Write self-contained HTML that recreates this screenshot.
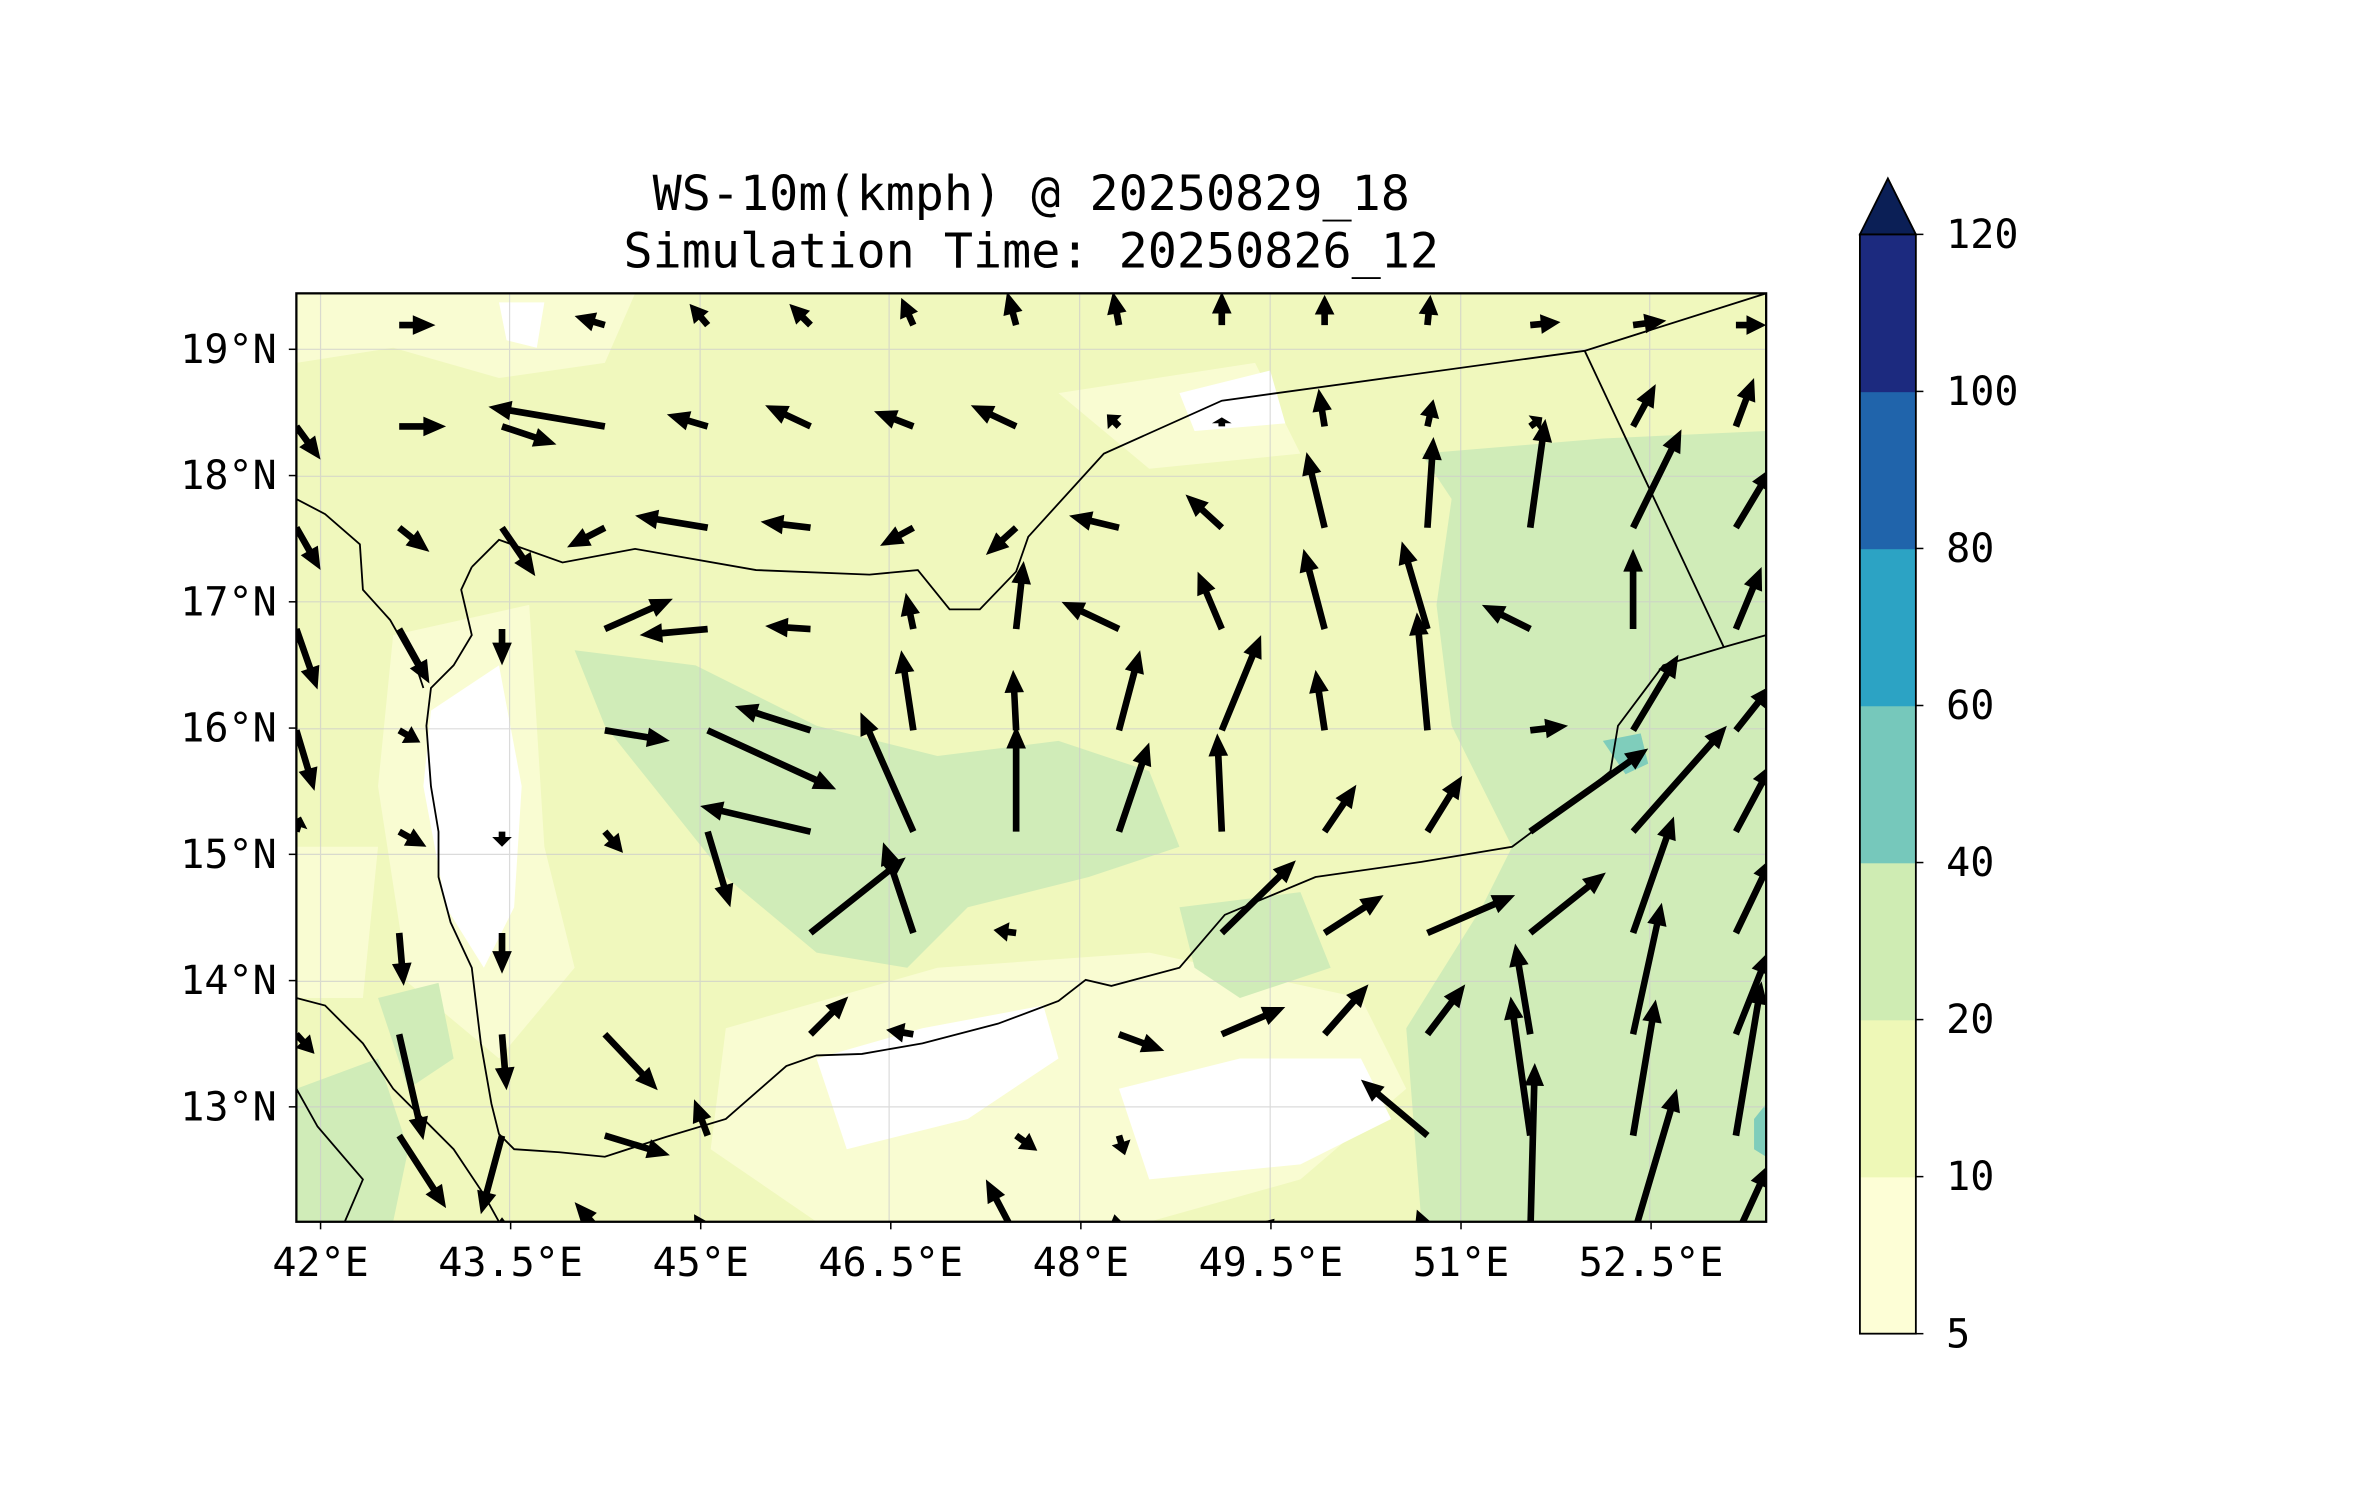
<!DOCTYPE html>
<html><head><meta charset="utf-8"><style>
html,body{margin:0;padding:0;background:#fff;}
svg{display:block;}
text{font-family:"DejaVu Sans Mono","Liberation Mono",monospace;fill:#000;}
</style></head><body>
<svg id="fig" width="2371" height="1500" viewBox="0 0 1568 992" preserveAspectRatio="none" xmlns="http://www.w3.org/2000/svg">
<defs><clipPath id="mapclip"><rect x="196" y="194" width="972" height="614"/></clipPath></defs>
<text x="682" y="139" font-size="32" text-anchor="middle">WS-10m(kmph) @ 20250829_18</text>
<text x="682" y="177" font-size="32" text-anchor="middle">Simulation Time: 20250826_12</text>
<g clip-path="url(#mapclip)">
<rect x="196" y="194" width="972" height="614" fill="#f0f8bd"/>
<g fill="#f9fcd2">
<path d="M196,194 L420,194 L400,240 L330,250 L260,230 L196,240Z"/>
<path d="M260,420 L350,400 L360,560 L380,640 L330,700 L270,650 L250,520Z"/>
<path d="M480,680 L620,640 L760,630 L900,660 L930,720 L860,780 L760,808 L540,808 L470,760Z"/>
<path d="M700,260 L830,240 L860,300 L760,310Z"/>
<path d="M196,560 L250,560 L240,660 L196,660Z"/>
<path d="M1110,400 L1168,380 L1168,480 L1120,470Z"/>
</g>
<g fill="#ffffff">
<path d="M285,470 L330,440 L345,520 L340,600 L320,640 L295,600 L280,520Z"/>
<path d="M540,700 L610,680 L690,665 L700,700 L640,740 L560,760Z"/>
<path d="M740,720 L820,700 L900,700 L920,740 L860,770 L760,780Z"/>
<path d="M780,260 L840,245 L850,280 L790,285Z"/>
<path d="M1060,440 L1110,425 L1120,470 L1070,475Z"/>
<path d="M330,200 L360,200 L355,230 L335,225Z"/>
</g>
<g fill="#d0ecb8">
<path d="M940,300 L1060,290 L1168,285 L1168,808 L940,808 L930,680 L980,600 L1000,560 L960,480 L950,400 L960,330Z"/>
<path d="M380,430 L460,440 L540,480 L620,500 L700,490 L760,510 L780,560 L720,580 L640,600 L600,640 L540,630 L480,580 L440,530 L400,480Z"/>
<path d="M780,600 L860,590 L880,640 L820,660 L790,640Z"/>
<path d="M196,720 L250,700 L270,760 L260,808 L196,808Z"/>
<path d="M250,660 L290,650 L300,700 L270,720Z"/>
<path d="M1060,490 L1085,485 L1090,505 L1075,512Z" fill="#7fcdbb"/>
<path d="M1160,740 L1168,730 L1168,765 L1160,760Z" fill="#7fcdbb"/>
</g>
<g stroke="#cccccc" stroke-width="0.8" opacity="0.7">
<line x1="212" y1="194" x2="212" y2="808"/><line x1="337" y1="194" x2="337" y2="808"/><line x1="463" y1="194" x2="463" y2="808"/><line x1="588" y1="194" x2="588" y2="808"/><line x1="714" y1="194" x2="714" y2="808"/><line x1="840" y1="194" x2="840" y2="808"/><line x1="966" y1="194" x2="966" y2="808"/><line x1="1091" y1="194" x2="1091" y2="808"/>
<line x1="196" y1="231" x2="1168" y2="231"/><line x1="196" y1="315" x2="1168" y2="315"/><line x1="196" y1="398" x2="1168" y2="398"/><line x1="196" y1="482" x2="1168" y2="482"/><line x1="196" y1="565" x2="1168" y2="565"/><line x1="196" y1="649" x2="1168" y2="649"/><line x1="196" y1="732" x2="1168" y2="732"/>
</g>
<g fill="none" stroke="#000" stroke-width="1.2">
<polyline points="312,375 305,390 312,420 300,440 285,455 282,480 285,520 290,550 290,580 298,610 312,640 318,690 325,730 330,750 340,760 370,762 400,765 440,752 480,740 520,705 540,698 570,697 610,690 660,677 700,662 718,648 735,652 780,640 810,605 870,580 940,570 1000,560 1040,530 1065,510 1070,480 1100,440 1140,428 1168,420"/>
<polyline points="312,375 330,357 372,372 420,363 500,377 575,380 607,377 628,403 648,403 672,378 680,355 730,300 808,265 1048,232 1168,194"/>
<polyline points="1048,232 1140,428"/>
<polyline points="196,330 215,340 238,360 240,390 258,410 275,440 280,455"/>
<polyline points="196,660 215,665 240,690 260,720 280,740 300,760 320,790 330,808"/>
<polyline points="196,720 210,745 240,780 228,808"/>
</g>
<g id="quiver"></g>
</g>
<rect x="196" y="194" width="972" height="614" fill="none" stroke="#000" stroke-width="1.5"/>
<g id="axes"></g>
<g id="cbar"></g>
</svg>
<script>
// quiver grid: tail positions derived from column/row indices
const colCount = 15;
const rowIndex = [0,1,2,3,4,5,6,7,8,9];
// wind components (east u, north v) per grid point, row by row
const uRows = [
 [0,24,0,-20,-12,-14,-8,-6,-4,0,0,2,20,22,20],
 [16,31,36,-77,-27,-30,-26,-30,-8,0,-4,4,8,15,12],
 [16,20,22,-25,-48,-33,-22,-20,-33,-24,-12,4,10,32,24],
 [14,20,0,45,-45,-30,-5,5,-38,-16,-14,-17,-32,0,17],
 [12,14,0,43,85,-50,-8,-2,14,26,-6,-7,25,30,24],
 [3,18,0,12,15,-73,-35,0,20,-3,21,23,78,62,24],
 [0,3,0,0,0,63,-20,-15,0,49,39,58,50,27,24],
 [12,16,3,35,0,25,-18,0,30,42,29,25,-10,19,22],
 [0,31,-14,43,-9,0,0,14,4,0,0,-44,-13,15,17],
 [0,0,0,-20,-9,0,0,-20,-3,0,-49,-7,3,29,22]
];
const vRows = [
 [0,0,0,6,14,14,18,22,22,22,20,20,2,3,0],
 [-22,0,-12,13,8,14,10,14,8,6,25,18,6,28,32],
 [-28,-16,-32,-13,8,4,-12,-18,8,22,50,60,72,65,40],
 [-40,-36,-24,20,-4,2,24,45,18,38,53,58,16,53,41],
 [-40,-8,0,-7,-39,16,53,40,53,63,40,78,3,50,30],
 [10,-10,-10,-14,-50,17,79,70,59,65,31,37,55,70,45],
 [0,-35,-27,0,0,50,60,2,0,48,25,25,40,77,50],
 [-13,-70,-37,-37,0,25,3,0,-11,18,33,33,60,87,55],
 [0,-48,-52,-13,24,0,0,-10,-13,0,0,37,92,90,102],
 [0,0,13,23,15,0,0,38,15,0,8,18,115,98,48]
];
// colorbar data
const levels = [5,10,20,40,60,80,100,120];
const levelColors = ["#fdfed6","#eef8b7","#cfecb3","#76c8bb","#2ca3c4","#2064ab","#1c2a7f"];
const extendColor = "#0b1f56";
// axis tick data
const lonTicks = [42,43.5,45,46.5,48,49.5,51,52.5];
const lonLabels = ["42°E","43.5°E","45°E","46.5°E","48°E","49.5°E","51°E","52.5°E"];
const latTicks = [13,14,15,16,17,18,19];
const latLabels = ["13°N","14°N","15°N","16°N","17°N","18°N","19°N"];

const NS="http://www.w3.org/2000/svg";
function mk(tag,attrs,parent){const e=document.createElementNS(NS,tag);for(const k in attrs)e.setAttribute(k,attrs[k]);parent.appendChild(e);return e;}
const colX = i => 196 + i*68;
const rowY = j => 215 + j*67;
const lonX = lon => 212 + (lon-42)*83.8;
const latY = lat => 732 - (lat-13)*83.5;

const q=document.getElementById('quiver');
rowIndex.forEach(j=>{
  for(let i=0;i<colCount;i++){
    const u=uRows[j][i], v=vRows[j][i];
    const L=Math.hypot(u,v); if(L<1)continue;
    const x0=colX(i), y0=rowY(j);
    const dx=u/L, dy=-v/L, px=-dy, py=dx;
    const hl=Math.min(15,L*0.65), hw=6.5, sw=2.2;
    const bx=x0+dx*(L-hl), by=y0+dy*(L-hl);
    const pts=[[x0+px*sw,y0+py*sw],[bx+px*sw,by+py*sw],[bx+px*hw,by+py*hw],[x0+dx*L,y0+dy*L],[bx-px*hw,by-py*hw],[bx-px*sw,by-py*sw],[x0-px*sw,y0-py*sw]];
    const a=mk('polygon',{points:pts.map(p=>p[0].toFixed(1)+','+p[1].toFixed(1)).join(' '),fill:'#000'},q);
    
    
  }
});

const ax=document.getElementById('axes');
lonTicks.forEach((lon,k)=>{
  const x=lonX(lon);
  const t=mk('line',{x1:x,y1:808,x2:x,y2:813,stroke:'#000','stroke-width':1},ax);
  
  
  const l=mk('text',{x:x,y:844,'font-size':26.5,'text-anchor':'middle'},ax);
  l.textContent=lonLabels[k];
  
  
});
latTicks.forEach((lat,k)=>{
  const y=latY(lat);
  const t=mk('line',{x1:191,y1:y,x2:196,y2:y,stroke:'#000','stroke-width':1},ax);
  
  
  const l=mk('text',{x:183,y:y+9,'font-size':26.5,'text-anchor':'end'},ax);
  l.textContent=latLabels[k];
  
  
});

const cb=document.getElementById('cbar');
const cbTop=155, cbBot=882, cbX=1230, cbW=37;
const segH=(cbBot-cbTop)/(levels.length-1);
const levY = k => cbBot - k*segH;
levelColors.forEach((c,k)=>{
  const r=mk('rect',{x:cbX,y:levY(k+1),width:cbW,height:segH+0.5,fill:c},cb);
  
  
});
const tri=mk('polygon',{points:`${cbX},${cbTop} ${cbX+cbW/2},118 ${cbX+cbW},${cbTop}`,fill:extendColor,stroke:'#000','stroke-width':1.2},cb);


const fr=mk('rect',{x:cbX,y:cbTop,width:cbW,height:cbBot-cbTop,fill:'none',stroke:'#000','stroke-width':1.2},cb);


levels.forEach((lv,k)=>{
  const y=levY(k);
  const t=mk('line',{x1:cbX+cbW,y1:y,x2:cbX+cbW+5,y2:y,stroke:'#000','stroke-width':1},cb);
  
  
  const l=mk('text',{x:1287,y:y+9,'font-size':26.5},cb);
  l.textContent=String(lv);
  
  
});
</script>
</body></html>
